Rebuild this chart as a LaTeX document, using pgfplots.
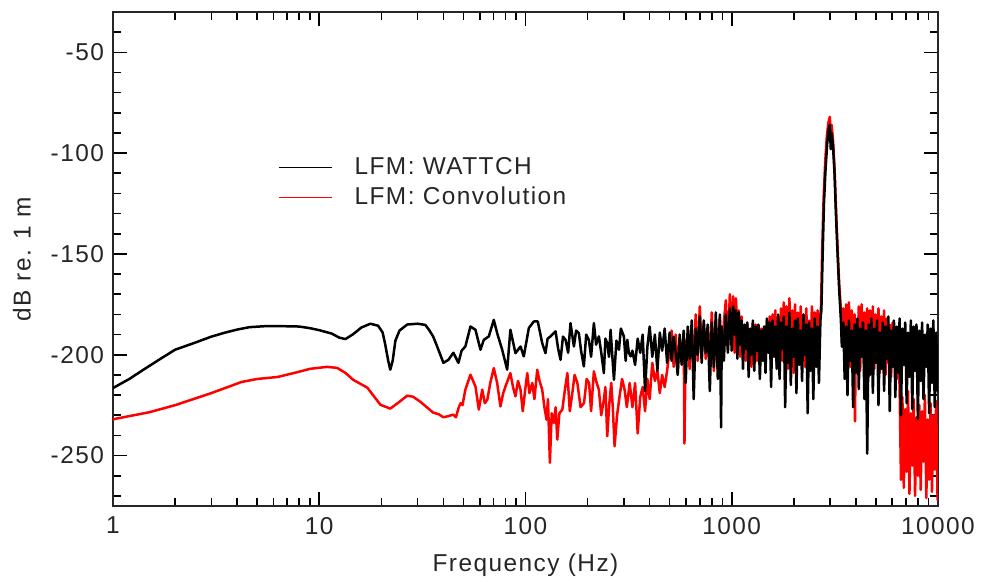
\documentclass[border=0pt]{standalone}
\usepackage{fontspec}
\setmainfont{Liberation Sans}[LetterSpace=6]
\usepackage{pgfplots}
\usepackage{pgfplotstable}
\pgfplotsset{compat=1.18}

\pgfplotstableread{
f v
1 -216.5
1.2 -212
1.4 -207.5
1.7 -202
2.0 -197.5
2.5 -194
3.0 -191
3.5 -189
4.0 -187.5
4.6 -186.3
5.5 -185.8
6.5 -185.8
8.0 -186
9.0 -186.8
10 -187.8
11.5 -189.5
12.5 -191.5
13.4 -192.2
14.6 -189.8
16 -186.5
17.7 -184.6
19.3 -185.6
20.3 -189
20.9 -195
21.6 -203
22.1 -207.4
22.7 -203
23.4 -193
24.5 -188
26.7 -185
30 -184.6
32.7 -185.2
34 -187.5
35.7 -191
37.5 -196.5
40 -204
42.3 -202.5
44.7 -199
47.3 -204
49 -198
51.1 -195.9
54.1 -186
57.2 -187.6
60.5 -197.5
62.8 -192.6
66.4 -190.9
70.2 -182.7
72.9 -189.3
77.1 -197.5
81.5 -207.4
84.5 -187.6
89.4 -199.2
94.6 -195.9
98.1 -200.8
103.8 -186.8
109.7 -183.5
114.7 -183.5
120.5 -194.2
125 -199.2
128 -192
132.2 -190.9
139.9 -188.4
144 -197
147.9 -202.5
152 -191
156.4 -192.6
161 -199
165.3 -184.3
171.7 -195.9
176 -188
181.5 -189.3
186 -198
191.9 -205.8
197 -190
202.9 -192.6
208 -201
214.6 -184.3
220 -195
226.9 -190.9
233 -199
239.9 -209.1
244 -192
249.1 -194.2
254 -201
258.6 -187.6
263 -199
268.5 -212.4
276 -193
283.9 -197.5
290 -187
300 -190.9
306 -203
311.7 -192.6
317 -199
323.3 -200.8
330 -198
340 -205
350 -192
360 -199
370 -190
380 -218
390 -196
400 -186
412 -201
424 -190
436 -208
448 -189
460 -198
473 -187
486 -204
500 -189
511 -203
523 -191
535 -199
547 -210
559 -190
572 -205
585 -188
598 -214
612 -186
625 -202
640 -183
654 -222
669 -187
684 -200
700 -181
715 -204
732 -183
748 -199
765 -185
783 -218
800 -184
819 -206
837 -179
856 -212
876 -180
888 -236
895 -186
916 -203
936 -180
958 -199
979 -177
1000 -198
1016 -176
1032 -190
1048 -178
1065 -202
1082 -179
1099 -195
1116 -183
1134 -207
1152 -185
1170 -197
1189 -184
1208 -211
1227 -187
1246 -200
1266 -183
1286 -208
1306 -186
1327 -198
1348 -185
1369 -212
1391 -188
1413 -203
1435 -186
1458 -209
1481 -182
1504 -199
1528 -184
1552 -216
1577 -183
1602 -201
1627 -186
1653 -207
1679 -180
1706 -212
1733 -184
1760 -197
1788 -181
1816 -226
1845 -186
1874 -204
1904 -179
1934 -215
1965 -187
1996 -201
2027 -183
2059 -219
2092 -182
2125 -205
2159 -188
2193 -213
2228 -180
2263 -200
2299 -185
2335 -229
2372 -184
2410 -208
2448 -187
2487 -222
2526 -182
2566 -206
2607 -186
2648 -214
2690 -183
2720 -178
2760 -150
2800 -125
2850 -108
2900 -96
2950 -88
2990 -86
3020 -98
3050 -90
3100 -97
3150 -110
3200 -130
3260 -150
3320 -168
3380 -182
3420 -196
3474 -184
3529 -212
3585 -186
3642 -220
3700 -183
3758 -203
3818 -188
3878 -226
3940 -185
4002 -209
4066 -182
4130 -217
4195 -187
4262 -201
4329 -184
4398 -222
4468 -188
4538 -249
4610 -185
4683 -210
4757 -182
4833 -219
4909 -187
4987 -204
5066 -183
5146 -225
5228 -189
5311 -207
5395 -184
5480 -218
5567 -186
5655 -202
5745 -181
5836 -228
5928 -188
6022 -206
6117 -183
6214 -221
6313 -186
6413 -209
6514 -182
6617 -230
6722 -187
6829 -205
6937 -184
7047 -224
7158 -189
7272 -211
7387 -183
7504 -227
7622 -186
7743 -208
7866 -185
7990 -232
8117 -188
8245 -213
8376 -184
8508 -222
8643 -190
8780 -206
8919 -185
9060 -229
9203 -187
9349 -214
9497 -183
9647 -226
9800 -189
9955 -218
10000 -195
}\wattch

\pgfplotstableread{
f v
1 -232
1.5 -228.5
2 -225
3 -219
4.2 -213.5
5 -212
6.3 -211
8 -208.4
9 -207
10.9 -206
12.2 -206.5
13.4 -209
14.6 -212.4
17.1 -216.3
19.8 -224.8
22.1 -226.7
24 -224
26.7 -220.3
28.5 -220.8
30.9 -223.3
35.7 -228.7
38 -229.5
40 -231
42 -230.5
44.7 -229.7
46 -231
47.5 -226
48.5 -224
49.5 -225
51.1 -217.3
54.1 -209.9
57.2 -215.7
59.4 -227.2
61.7 -217.3
63.5 -224
65.3 -222.3
67.5 -214
70.2 -206.6
72.9 -214
75.6 -225.6
78 -219
80 -215.7
84.5 -209.1
87 -216
89.4 -220.6
92 -213
94.6 -217.3
97 -228
99.5 -218
102 -209.1
104.5 -219
107.9 -214
110.5 -222
114 -207.4
117 -213
120.5 -217.3
123.5 -226
126.5 -232.2
128.5 -222
131.3 -253.6
134 -229
137.4 -233.8
140 -226
142.6 -242.1
146 -229
150.9 -227.2
155 -218
159.6 -209.1
164 -228
168.7 -219
173 -210
178.5 -214
185 -226
192.3 -223.9
198 -212
203.4 -214
208 -228
214.6 -208.2
220 -213
226.9 -217.3
233 -230
239.9 -222.3
244 -216
249.1 -240.4
255 -224
260.5 -214
265 -226
270.4 -245.4
278 -230
285.9 -220.6
294 -212
302.4 -217.3
310 -226
320 -214
330 -226
340 -214
350 -239
360 -221
370 -216
380 -228
390 -212
400 -222
412 -204
424 -213
436 -208
448 -219
460 -210
473 -216
486 -208
500 -197
511 -188
523 -206
535 -190
547 -209
559 -192
572 -204
585 -189
590 -244
598 -195
612 -191
625 -207
640 -190
654 -201
669 -180
684 -203
700 -176
715 -198
732 -185
748 -202
765 -186
783 -205
800 -179
819 -208
837 -183
856 -200
876 -181
895 -204
916 -184
936 -173
958 -197
979 -170
1000 -194
1016 -171
1032 -199
1048 -172
1065 -189
1082 -178
1099 -201
1116 -181
1134 -196
1152 -186
1170 -203
1189 -185
1208 -199
1227 -189
1246 -206
1266 -184
1286 -198
1306 -185
1327 -203
1348 -190
1369 -205
1391 -187
1413 -200
1435 -186
1458 -207
1481 -183
1504 -197
1528 -181
1552 -204
1577 -180
1602 -199
1627 -178
1653 -205
1679 -181
1706 -198
1733 -177
1760 -203
1788 -174
1816 -200
1845 -176
1874 -207
1904 -172
1934 -199
1965 -178
1996 -209
2027 -175
2059 -201
2092 -179
2125 -204
2159 -176
2193 -198
2228 -181
2263 -206
2299 -177
2335 -202
2372 -183
2410 -199
2448 -176
2487 -205
2526 -179
2566 -200
2607 -178
2648 -203
2690 -180
2710 -176
2745 -148
2790 -122
2840 -104
2890 -92
2940 -85
2990 -82
3020 -92
3050 -86
3100 -94
3150 -107
3200 -126
3260 -147
3320 -165
3390 -179
3420 -193
3474 -177
3529 -204
3585 -175
3642 -199
3700 -174
3758 -206
3818 -178
3878 -201
3940 -180
3960 -233
4002 -184
4066 -203
4130 -176
4195 -208
4262 -175
4329 -200
4398 -179
4468 -205
4538 -177
4610 -211
4683 -178
4757 -202
4833 -176
4909 -207
4987 -180
5066 -201
5146 -177
5228 -209
5311 -181
5395 -203
5480 -178
5567 -210
5655 -182
5745 -204
5836 -185
5928 -211
6022 -184
6117 -206
6214 -189
6313 -212
6413 -191
6514 -216
6617 -262
6722 -221
6829 -266
6937 -227
7047 -258
7158 -218
7272 -269
7387 -229
7504 -255
7622 -222
7743 -270
7866 -231
7990 -260
8117 -225
8245 -267
8376 -228
8508 -253
8643 -220
8780 -271
8919 -232
9060 -262
9203 -224
9349 -268
9497 -230
9647 -257
9800 -223
9955 -272
10000 -262
}\convolution

\begin{document}
\begin{tikzpicture}
\begin{axis}[
  at={(0,0)}, anchor=south west,
  scale only axis,
  width=412.5pt, height=247pt,
  xmode=log,
  xmin=1, xmax=10000,
  ymin=-275, ymax=-30,
  xtick={1,10,100,1000,10000},
  xticklabels={1,10,100,1000,10000},
  minor xtick={2,3,4,5,6,7,8,9,20,30,40,50,60,70,80,90,200,300,400,500,600,700,800,900,2000,3000,4000,5000,6000,7000,8000,9000},
  ytick={-250,-200,-150,-100,-50},
  yticklabels={-250,-200,-150,-100,-50},
  minor ytick={-270,-260,-240,-230,-220,-210,-190,-180,-170,-160,-140,-130,-120,-110,-90,-80,-70,-60,-40},
  tick align=inside,
  major tick length=7pt,
  minor tick length=3.8pt,
  every tick/.style={black, line width=0.8pt},
  axis line style={line width=0.9pt, black!85},
  tick label style={font=\fontsize{12.2pt}{14pt}\selectfont, black!85},
  xticklabel style={yshift=-2pt},
  yticklabel style={xshift=-1pt},
  label style={font=\fontsize{12.2pt}{14pt}\selectfont, black!85},
  xlabel={Frequency (Hz)},
  ylabel={dB re. 1 m},
  xlabel style={yshift=-3pt},
  ylabel style={yshift=3pt},
  reverse legend,
  legend cell align=left,
  legend style={at={(0.2,0.715)}, anchor=north west, draw=none, fill=none,
    font=\fontsize{12.2pt}{14pt}\selectfont, text=black!85, inner sep=0pt,
    row sep=1pt, /tikz/every even column/.append style={column sep=0pt}},
  legend image code/.code={\draw[line width=0.6pt] (0pt,0pt) -- (26.5pt,0pt);},
]
\addplot[color=red, line width=1.25pt, line join=round] table[x=f, y=v] {\convolution};
\addlegendentry{\hspace{9pt}LFM: Convolution}
\addplot[color=black, line width=1.25pt, line join=round] table[x=f, y=v] {\wattch};
\addlegendentry{\hspace{9pt}LFM: WATTCH}
\end{axis}
\pgfresetboundingbox
\path[use as bounding box] (-56.5pt,-38pt) rectangle (434.5pt,253pt);
\end{tikzpicture}
\end{document}
